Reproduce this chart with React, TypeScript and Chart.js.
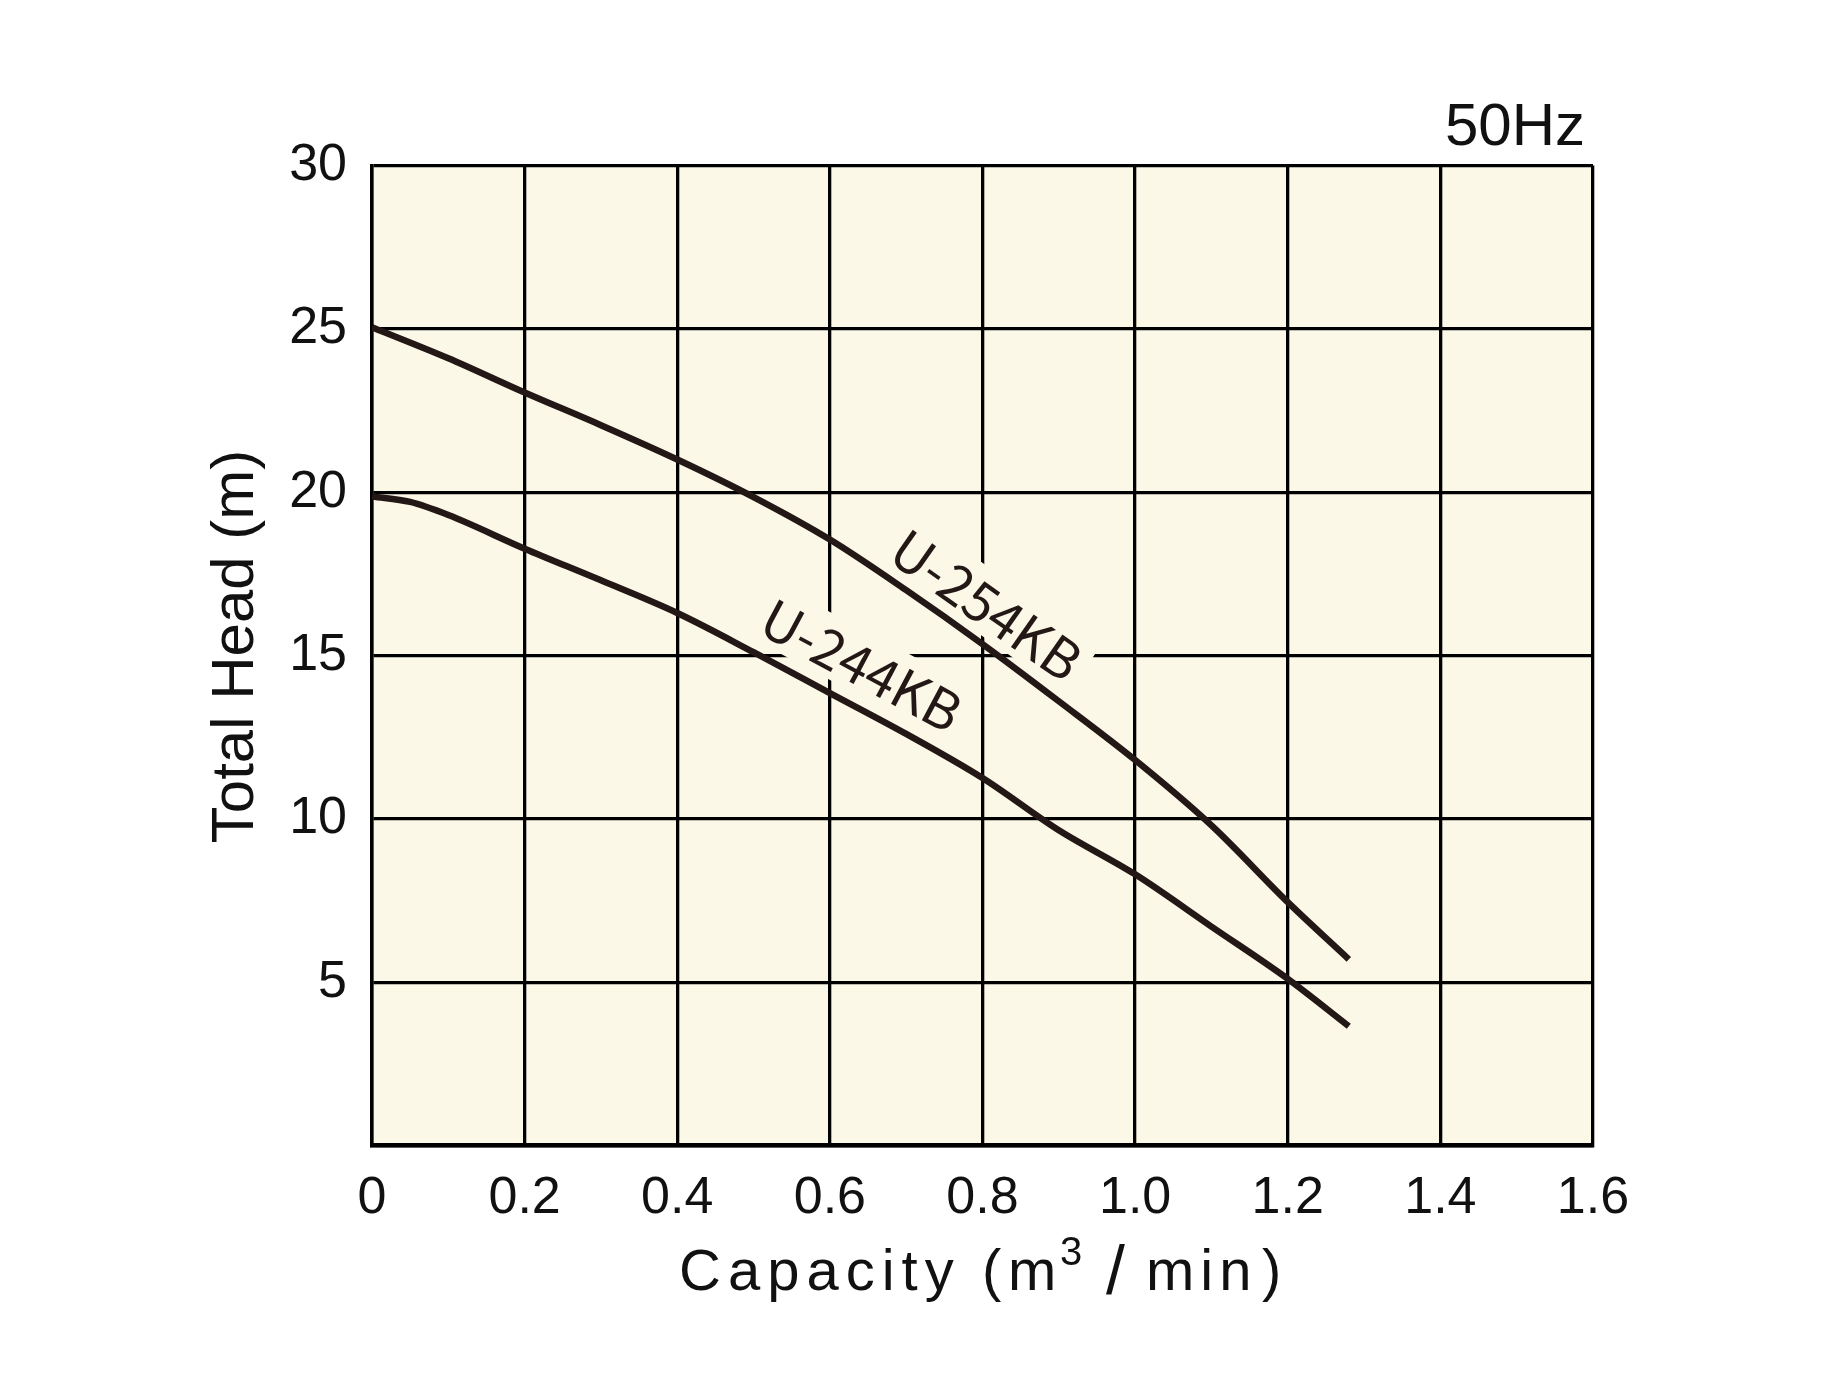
import { useEffect, useRef } from "react";
import { Chart, registerables } from "chart.js";

Chart.register(...registerables);

// ---- data ----
const xTickValues = [0, 0.2, 0.4, 0.6, 0.8, 1.0, 1.2, 1.4, 1.6];
const yTickValues = [5, 10, 15, 20, 25, 30];

const seriesNames = ["U-254KB", "U-244KB"];

const capacity254 = [0, 0.1, 0.2, 0.3, 0.4, 0.5, 0.6, 0.7, 0.8, 0.9, 1.0, 1.1, 1.2, 1.28];
const head254 = [25.05, 24.1, 23.05, 22.05, 21.0, 19.85, 18.55, 17.0, 15.35, 13.6, 11.8, 9.8, 7.45, 5.7];

const capacity244 = [0, 0.05, 0.1, 0.2, 0.3, 0.4, 0.5, 0.6, 0.7, 0.8, 0.9, 1.0, 1.1, 1.2, 1.28];
const head244 = [19.87, 19.7, 19.3, 18.27, 17.3, 16.3, 15.1, 13.85, 12.6, 11.25, 9.65, 8.3, 6.7, 5.1, 3.65];

const xTitleParts = ["Capacity", "(", "m", "3", "/", "min", ")"];
const yTitle = "Total Head (m)";
const freqLabel = "50Hz";

// ---- styles ----
const W = 1826;
const H = 1381;
const PLOT_BG = "#FBF8E8";
const INK = "#231815";
const GRID = "#000000";
const NUM_FONT = "'Liberation Sans', Arial, sans-serif";
const LABEL_FONT = "'Noto Sans CJK JP', 'Noto Sans', sans-serif";

const curveLabels = [
  { text: seriesNames[0], x: 0.807, y: 16.6, angle: 35 },
  { text: seriesNames[1], x: 0.643, y: 14.76, angle: 28 },
];

// layout of each x-title segment: left x, font size, baseline offset, letter spacing
const xTitleLayout = [
  { x: 679, size: 58, dy: 0, spacing: 7 },
  { x: 982, size: 58, dy: 0, spacing: 0 },
  { x: 1008, size: 58, dy: 0, spacing: 0 },
  { x: 1060, size: 40, dy: -25, spacing: 0 },
  { x: 1106, size: 68, dy: 4, spacing: 0 },
  { x: 1146, size: 58, dy: 0, spacing: 6 },
  { x: 1262, size: 58, dy: 0, spacing: 0 },
];

const decorPlugin = {
  id: "decor",
  beforeDraw(chart: any) {
    const { ctx, chartArea } = chart;
    ctx.save();
    ctx.fillStyle = "#ffffff";
    ctx.fillRect(0, 0, chart.width, chart.height);
    ctx.fillStyle = PLOT_BG;
    ctx.fillRect(chartArea.left, chartArea.top, chartArea.right - chartArea.left, chartArea.bottom - chartArea.top);
    ctx.restore();
  },
  beforeDatasetsDraw(chart: any) {
    const { ctx, scales } = chart;
    ctx.save();
    ctx.font = `54px ${LABEL_FONT}`;
    for (const l of curveLabels) {
      const px = scales.x.getPixelForValue(l.x);
      const py = scales.y.getPixelForValue(l.y);
      ctx.save();
      ctx.translate(px, py);
      ctx.rotate((l.angle * Math.PI) / 180);
      const w = ctx.measureText(l.text).width;
      ctx.fillStyle = PLOT_BG;
      ctx.fillRect(-w / 2 - 8, -30, w + 16, 60);
      ctx.fillStyle = INK;
      ctx.textAlign = "center";
      ctx.textBaseline = "middle";
      ctx.fillText(l.text, 0, 2);
      ctx.restore();
    }
    ctx.restore();
  },
  afterDraw(chart: any) {
    const { ctx } = chart;
    ctx.save();
    ctx.fillStyle = "#111111";
    // frequency label
    ctx.font = `60px ${NUM_FONT}`;
    ctx.textAlign = "right";
    ctx.textBaseline = "alphabetic";
    ctx.fillText(freqLabel, 1585, 145);
    // x title
    ctx.textAlign = "left";
    xTitleParts.forEach((t, i) => {
      const L = xTitleLayout[i];
      ctx.font = `${L.size}px ${NUM_FONT}`;
      (ctx as any).letterSpacing = `${L.spacing}px`;
      ctx.fillText(t, L.x, 1290 + L.dy);
    });
    (ctx as any).letterSpacing = "0px";
    // y title
    ctx.font = `60px ${NUM_FONT}`;
    ctx.translate(253, 646.5);
    ctx.rotate(-Math.PI / 2);
    ctx.textAlign = "center";
    ctx.textBaseline = "alphabetic";
    ctx.fillText(yTitle, 0, 0);
    ctx.restore();
  },
};

export default function App() {
  const ref = useRef<HTMLCanvasElement | null>(null);

  useEffect(() => {
    if (!ref.current) return;
    const chart = new Chart(ref.current, {
      type: "line",
      data: {
        datasets: [
          {
            label: seriesNames[0],
            data: capacity254.map((x, i) => ({ x, y: head254[i] })),
            borderColor: INK,
            borderWidth: 6.5,
            pointRadius: 0,
            cubicInterpolationMode: "monotone",
            fill: false,
          },
          {
            label: seriesNames[1],
            data: capacity244.map((x, i) => ({ x, y: head244[i] })),
            borderColor: INK,
            borderWidth: 6.5,
            pointRadius: 0,
            cubicInterpolationMode: "monotone",
            fill: false,
          },
        ],
      },
      options: {
        responsive: false,
        animation: false,
        layout: { padding: { left: 0, top: 165.5, right: W - 1593, bottom: 0 } },
        plugins: { legend: { display: false }, tooltip: { enabled: false } },
        scales: {
          x: {
            type: "linear",
            min: 0,
            max: 1.6,
            afterBuildTicks: (scale: any) => {
              scale.ticks = xTickValues.map((v) => ({ value: v }));
            },
            afterFit: (scale: any) => {
              scale.height = H - 1145.5;
            },
            ticks: {
              callback: (v: any) => (Number(v) === 0 ? "0" : Number(v).toFixed(1)),
              font: { family: NUM_FONT, size: 52 },
              color: "#111111",
              padding: 22,
              maxRotation: 0,
              autoSkip: false,
            },
            grid: { color: GRID, lineWidth: 3.3, drawTicks: false },
            border: { display: true, color: GRID, width: 4.5 },
          },
          y: {
            type: "linear",
            min: 0,
            max: 30,
            afterBuildTicks: (scale: any) => {
              scale.ticks = [0, ...yTickValues].map((v) => ({ value: v }));
            },
            afterFit: (scale: any) => {
              scale.width = 372;
            },
            ticks: {
              callback: (v: any) => (Number(v) === 0 ? "" : String(v)),
              font: { family: NUM_FONT, size: 52 },
              color: "#111111",
              padding: 25,
              autoSkip: false,
            },
            grid: { color: GRID, lineWidth: 3.3, drawTicks: false },
            border: { display: true, color: GRID, width: 3.5 },
          },
        },
      },
      plugins: [decorPlugin],
    } as any);
    return () => chart.destroy();
  }, []);

  return (
    <div style={{ position: "absolute", left: 0, top: 0, width: W, height: H }}>
      <canvas ref={ref} width={W} height={H} style={{ display: "block", width: W, height: H }} />
    </div>
  );
}
